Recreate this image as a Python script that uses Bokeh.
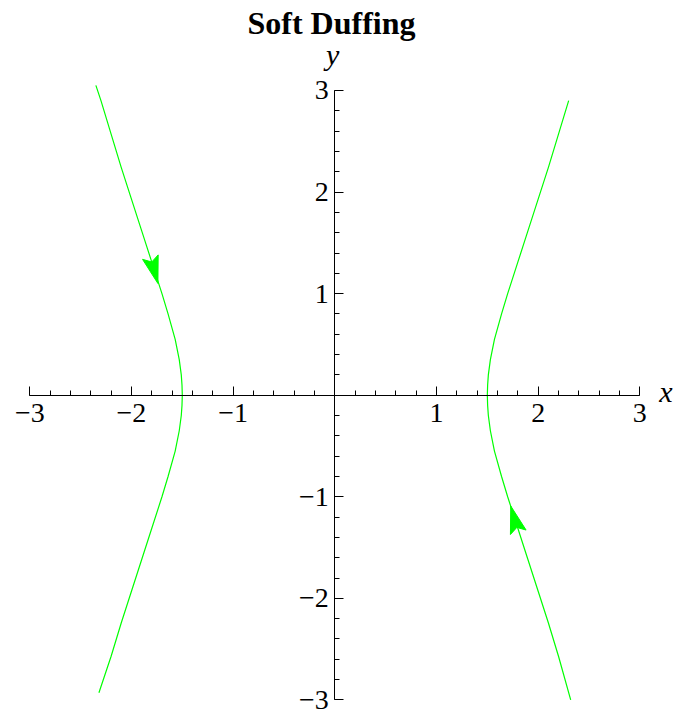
import numpy as np
from bokeh.plotting import figure
from bokeh.models import Range1d, LinearAxis, FixedTicker, Label
from bokeh.embed import file_html
from bokeh.resources import INLINE

# Phase-plane trajectories of the soft Duffing oscillator (x vs. y = dx/dt)
right_x = [2.32, 2.20, 2.10, 2.00, 1.90, 1.80, 1.70, 1.64, 1.57, 1.53, 1.51, 1.503, 1.50,
           1.503, 1.51, 1.53, 1.57, 1.64, 1.70, 1.80, 1.90, 2.00, 2.10, 2.20, 2.30]
right_y = [-3.00, -2.57, -2.24, -1.93, -1.62, -1.31, -1.00, -0.80, -0.55, -0.35, -0.20, -0.10, 0.00,
           0.10, 0.20, 0.35, 0.55, 0.80, 1.00, 1.31, 1.62, 1.93, 2.24, 2.57, 2.90]

left_x = [-2.35, -2.30, -2.20, -2.10, -2.00, -1.90, -1.80, -1.70, -1.64, -1.57, -1.53, -1.51, -1.503, -1.50,
          -1.503, -1.51, -1.53, -1.57, -1.64, -1.70, -1.80, -1.90, -2.00, -2.10, -2.20, -2.32]
left_y = [3.05, 2.90, 2.57, 2.24, 1.93, 1.62, 1.31, 1.00, 0.80, 0.55, 0.35, 0.20, 0.10, 0.00,
          -0.10, -0.20, -0.35, -0.55, -0.80, -1.00, -1.31, -1.62, -1.93, -2.24, -2.57, -2.93]

# direction markers: tip point and a point behind it along the flow
arrow_tip_x = [-1.74, 1.73]
arrow_tip_y = [1.10, -1.09]
arrow_tail_x = [-1.80, 1.79]
arrow_tail_y = [1.31, -1.30]

major_ticks = [-3, -2, -1, 1, 2, 3]
tick_labels = {-3: "\u22123", -2: "\u22122", -1: "\u22121", 1: "1", 2: "2", 3: "3"}
minor_ticks = [round(v, 1) for v in np.arange(-3.0, 3.01, 0.2)]

GREEN = "#00ff00"
SERIF = "Liberation Serif"

p = figure(width=679, height=711, output_backend="svg", toolbar_location=None,
           x_range=Range1d(-3.288, 3.390), y_range=Range1d(-3.114, 3.886),
           x_axis_type=None, y_axis_type=None, min_border=0)
p.outline_line_color = None
p.background_fill_color = "white"
p.border_fill_color = "white"

def style_axis(ax, standoff):
    ax.ticker = FixedTicker(ticks=major_ticks, minor_ticks=minor_ticks)
    ax.major_label_overrides = tick_labels
    ax.bounds = (-3, 3)
    ax.major_tick_in = 9
    ax.major_tick_out = 0
    ax.minor_tick_in = 5
    ax.minor_tick_out = 0
    ax.axis_line_color = "black"
    ax.major_tick_line_color = "black"
    ax.minor_tick_line_color = "black"
    ax.major_label_text_font = SERIF
    ax.major_label_text_font_size = "28px"
    ax.major_label_text_color = "black"
    ax.major_label_standoff = standoff

xaxis = LinearAxis(fixed_location=0)
style_axis(xaxis, 9)
p.add_layout(xaxis, "below")

yaxis = LinearAxis(fixed_location=0)
style_axis(yaxis, 6)
p.add_layout(yaxis, "left")

p.line(right_x, right_y, line_color=GREEN, line_width=1.2)
p.line(left_x, left_y, line_color=GREEN, line_width=1.2)

# arrowheads built from the tip and flow direction (equal x/y scale)
head_len, head_half, notch = 0.27, 0.08, 0.05
xs, ys = [], []
for tx, ty, bx, by in zip(arrow_tip_x, arrow_tip_y, arrow_tail_x, arrow_tail_y):
    d = np.array([tx - bx, ty - by])
    d = d / np.hypot(*d)
    n = np.array([-d[1], d[0]])
    tip = np.array([tx, ty])
    base = tip - d * head_len
    pts = [tip, base + n * head_half, tip - d * (head_len - notch), base - n * head_half]
    xs.append([float(q[0]) for q in pts])
    ys.append([float(q[1]) for q in pts])
p.patches(xs, ys, fill_color=GREEN, line_color=GREEN, line_width=1)

p.add_layout(Label(x=331, y=689, x_units="screen", y_units="screen", text="Soft Duffing",
                   text_font=SERIF, text_font_style="bold", text_font_size="32px",
                   text_align="center", text_baseline="alphabetic", text_color="black"))
p.add_layout(Label(x=-0.02, y=3.35, text="y", text_font=SERIF, text_font_style="italic",
                   text_font_size="30px", text_align="center", text_baseline="alphabetic",
                   text_color="black"))
p.add_layout(Label(x=3.19, y=0.04, text="x", text_font=SERIF, text_font_style="italic",
                   text_font_size="30px", text_align="left", text_baseline="alphabetic",
                   text_color="black"))

open("out.html", "w").write(file_html(p, INLINE))
